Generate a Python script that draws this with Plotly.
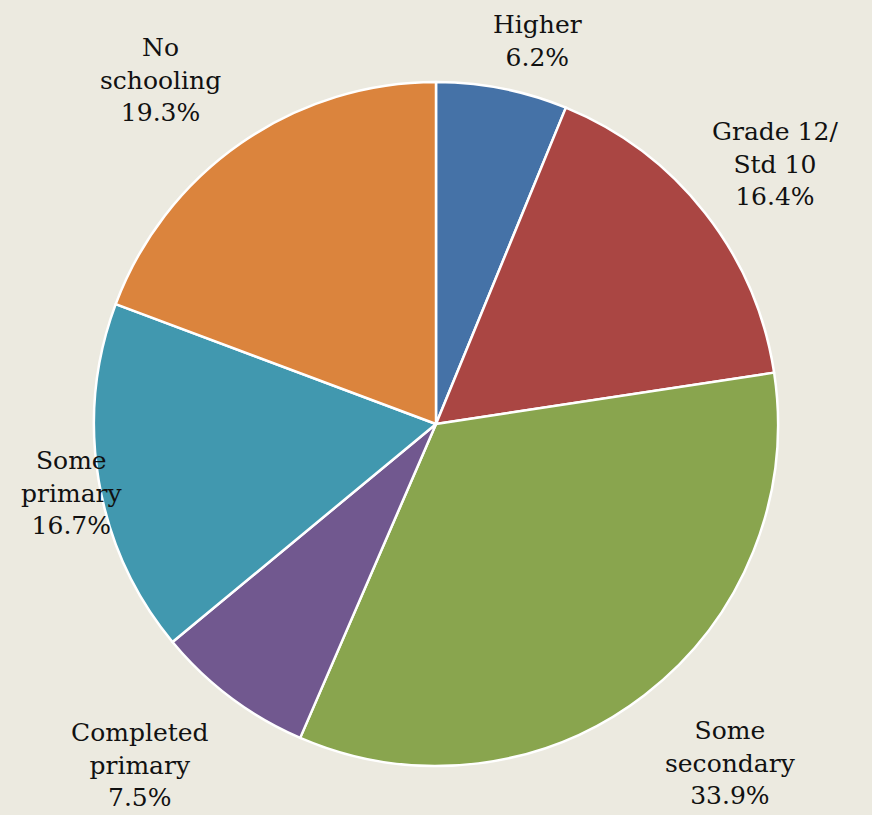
import plotly.graph_objects as go

categories = ["Higher", "Grade 12/<br>Std 10", "Some<br>secondary", "Completed<br>primary", "Some<br>primary", "No<br>schooling"]
values = [6.2, 16.4, 33.9, 7.5, 16.7, 19.3]
colors = ["#4572A7", "#AA4643", "#89A54E", "#71588F", "#4198AF", "#DB843D"]

# label anchor positions (pixels in 872x815 page)
label_pos = [(537, 41), (775, 164), (730, 763), (140, 765), (72, 493), (160, 80)]

W, H = 872, 815
fig = go.Figure()
fig.add_trace(go.Pie(
    labels=[c.replace("<br>", " ") for c in categories],
    values=values,
    sort=False,
    direction="clockwise",
    rotation=0,
    marker=dict(colors=colors, line=dict(color="white", width=2.5)),
    textinfo="none",
    hoverinfo="label+percent",
    domain=dict(x=[94 / W, 778 / W], y=[49 / H, 733 / H]),
    showlegend=False,
))

annotations = []
for cat, v, (px, py) in zip(categories, values, label_pos):
    annotations.append(dict(
        x=px / W, y=1 - py / H, xref="paper", yref="paper",
        text=f"{cat}<br>{v:.1f}%", showarrow=False,
        xanchor="center", yanchor="middle", align="center",
        font=dict(family="DejaVu Serif", size=25, color="#111111"),
    ))

fig.update_layout(
    width=W, height=H,
    margin=dict(l=0, r=0, t=0, b=0),
    paper_bgcolor="#ECEAE0",
    plot_bgcolor="#ECEAE0",
    annotations=annotations,
)
fig.write_html("out.html")
